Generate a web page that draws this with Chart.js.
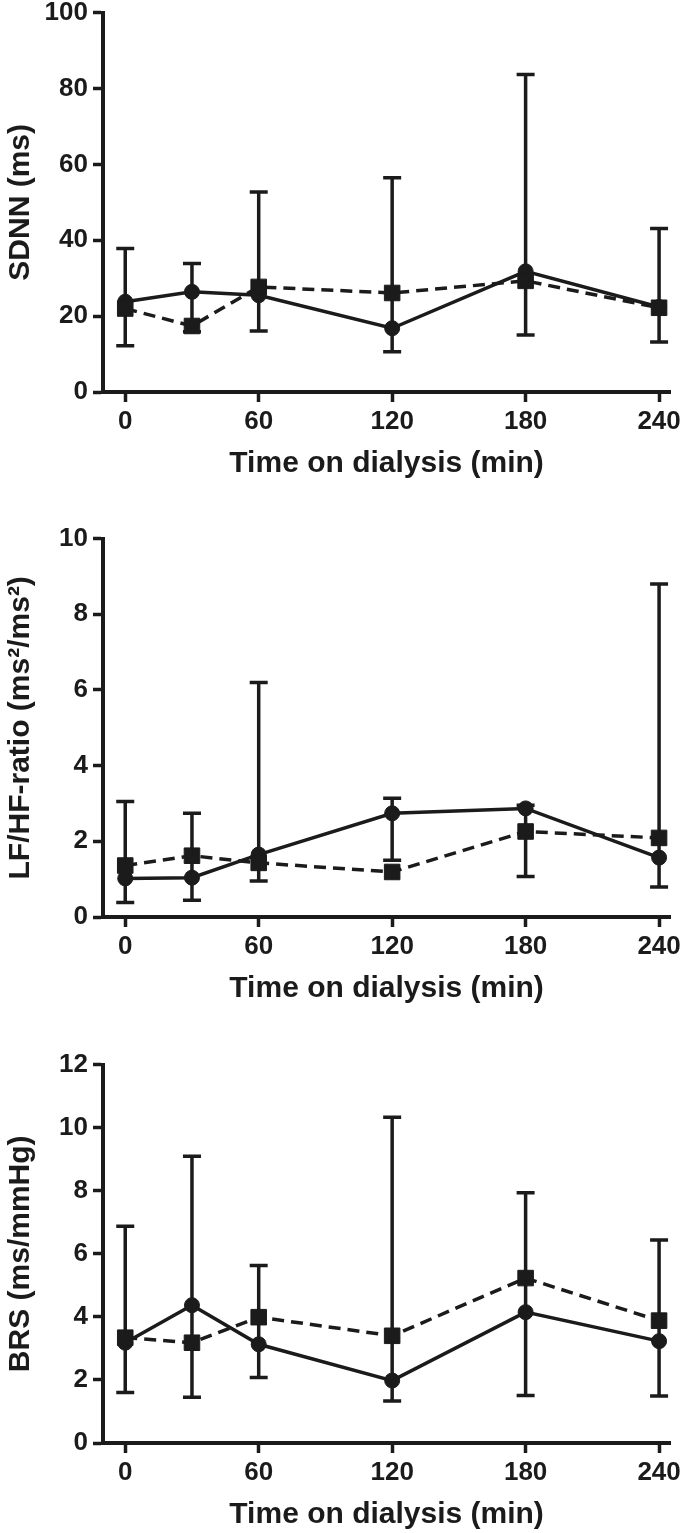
<!DOCTYPE html>
<html>
<head>
<meta charset="utf-8">
<script src="https://cdn.jsdelivr.net/npm/chart.js@4/dist/chart.umd.min.js"></script>
<style>
  html, body { margin: 0; padding: 0; background: #fff; }
  #wrap { position: relative; width: 685px; height: 1533px; overflow: hidden; }
  #wrap canvas { position: absolute; left: 0; }
</style>
</head>
<body>
<div id="wrap">
  <canvas id="sdnn"></canvas>
  <canvas id="lfhf"></canvas>
  <canvas id="brs"></canvas>
</div>
<script>
// time points (min) and x tick labels
let times = [0, 30, 60, 120, 180, 240];
let xTicks = [0, 60, 120, 180, 240];

// SDNN (ms)
let sdnnCircle = [23.8, 26.4, 25.5, 16.8, 31.8, 22.4];
let sdnnSquare = [22.0, 17.4, 27.7, 26.1, 29.3, 22.2];
let sdnnHi = [37.8, 33.9, 52.7, 56.5, 83.7, 43.1];
let sdnnLo = [12.2, 15.9, 16.1, 10.6, 15.0, 13.2];

// LF/HF ratio
let lfhfCircle = [1.02, 1.04, 1.65, 2.74, 2.87, 1.57];
let lfhfSquare = [1.36, 1.62, 1.43, 1.19, 2.26, 2.09];
let lfhfHi = [3.05, 2.74, 6.2, 3.14, 2.95, 8.8];
let lfhfLo = [0.38, 0.44, 0.95, 1.5, 1.07, 0.79];

// BRS (ms/mmHg)
let brsCircle = [3.18, 4.37, 3.13, 1.98, 4.15, 3.23];
let brsSquare = [3.34, 3.18, 3.99, 3.4, 5.23, 3.88];
let brsHi = [6.87, 9.09, 5.63, 10.33, 7.94, 6.44];
let brsLo = [1.6, 1.45, 2.08, 1.33, 1.51, 1.49];

let ink = '#1b1b1b';
let fontFam = '"Liberation Sans", Arial, sans-serif';

// vertical whiskers with caps, drawn behind the lines
let whiskers = {
    id: 'whiskers',
    beforeDatasetsDraw(chart, args, opts) {
        let ctx = chart.ctx;
        let x = chart.scales.x;
        let y = chart.scales.y;
        ctx.save();
        ctx.strokeStyle = ink;
        ctx.lineWidth = 3.5;
        for (let i = 0; i < opts.lo.length; i++) {
            let px = x.getPixelForValue(times[i]);
            let top = y.getPixelForValue(opts.hi[i]);
            let bot = y.getPixelForValue(opts.lo[i]);
            ctx.beginPath();
            ctx.moveTo(px, top); ctx.lineTo(px, bot);
            ctx.moveTo(px - 9, top); ctx.lineTo(px + 9, top);
            ctx.moveTo(px - 9, bot); ctx.lineTo(px + 9, bot);
            ctx.stroke();
        }
        ctx.restore();
    }
};

function points(vals) {
    return vals.map((v, i) => ({x: times[i], y: v}));
}

function makePanel(id, top, areaH, yMax, yStep, yTitle, circ, sq, hi, lo) {
    let canvas = document.getElementById(id);
    let xH = 110;
    canvas.width = 685;
    canvas.height = 20 + areaH + xH;
    canvas.style.top = top + 'px';
    new Chart(canvas, {
        type: 'line',
        data: {
            datasets: [
                {
                    data: points(sq),
                    borderColor: ink, backgroundColor: ink,
                    borderWidth: 3.5, borderDash: [12, 7],
                    pointStyle: 'rect', pointRadius: 11, pointBorderWidth: 1,
                    pointBackgroundColor: ink, pointBorderColor: ink
                },
                {
                    data: points(circ),
                    borderColor: ink, backgroundColor: ink,
                    borderWidth: 3.5,
                    pointStyle: 'circle', pointRadius: 7.5, pointBorderWidth: 1,
                    pointBackgroundColor: ink, pointBorderColor: ink
                }
            ]
        },
        options: {
            responsive: false,
            animation: false,
            layout: { padding: { top: 20, left: 0, right: 12, bottom: 0 } },
            plugins: {
                legend: { display: false },
                tooltip: { enabled: false },
                whiskers: { hi: hi, lo: lo }
            },
            scales: {
                x: {
                    type: 'linear',
                    min: -10, max: 245,
                    afterBuildTicks: (s) => { s.ticks = xTicks.map(v => ({value: v})); },
                    afterFit: (s) => { s.height = xH; },
                    grid: { drawOnChartArea: false, drawTicks: true, tickLength: 10, tickWidth: 3.5, tickColor: ink },
                    border: { display: true, color: ink, width: 4 },
                    ticks: { color: ink, padding: 4, font: { family: fontFam, size: 26, weight: 'bold' } },
                    title: {
                        display: true, text: 'Time on dialysis (min)', color: ink,
                        font: { family: fontFam, size: 30, weight: 'bold', lineHeight: 1 },
                        padding: { top: 0, bottom: 23 }
                    }
                },
                y: {
                    min: 0, max: yMax,
                    afterFit: (s) => { s.width = 103; },
                    grid: { drawOnChartArea: false, drawTicks: true, tickLength: 10, tickWidth: 3.5, tickColor: ink },
                    border: { display: true, color: ink, width: 4 },
                    ticks: { stepSize: yStep, color: ink, padding: 5, font: { family: fontFam, size: 26, weight: 'bold' } },
                    title: {
                        display: true, text: yTitle, color: ink,
                        font: { family: fontFam, size: 30, weight: 'bold', lineHeight: 1 },
                        padding: { top: 6, bottom: 0 }
                    }
                }
            }
        },
        plugins: [whiskers]
    });
}

makePanel('sdnn', -8, 380, 100, 20, 'SDNN (ms)', sdnnCircle, sdnnSquare, sdnnHi, sdnnLo);
makePanel('lfhf', 518, 379, 10, 2, 'LF/HF-ratio (ms\u00b2/ms\u00b2)', lfhfCircle, lfhfSquare, lfhfHi, lfhfLo);
makePanel('brs', 1044, 379, 12, 2, 'BRS (ms/mmHg)', brsCircle, brsSquare, brsHi, brsLo);
</script>
</body>
</html>
